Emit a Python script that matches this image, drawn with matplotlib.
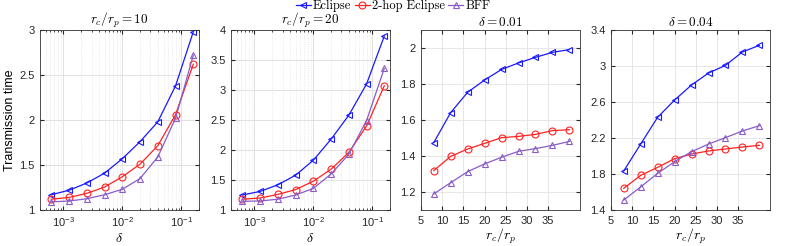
import numpy as np
import matplotlib.pyplot as plt

plt.rcParams['font.family'] = ['Liberation Sans', 'DejaVu Sans']
plt.rcParams['mathtext.fontset'] = 'cm'

# panel 1 / 2 : transmission time vs delta
delta = [0.000625, 0.00125, 0.0025, 0.005, 0.01, 0.02, 0.04, 0.08, 0.16]

ecl_r10 = [1.17, 1.22, 1.30, 1.41, 1.57, 1.76, 1.98, 2.38, 2.98]
hop_r10 = [1.12, 1.14, 1.185, 1.255, 1.37, 1.51, 1.715, 2.06, 2.62]
bff_r10 = [1.09, 1.10, 1.125, 1.17, 1.23, 1.35, 1.59, 2.02, 2.72]

ecl_r20 = [1.25, 1.31, 1.42, 1.58, 1.83, 2.18, 2.58, 3.10, 3.90]
hop_r20 = [1.18, 1.20, 1.26, 1.34, 1.48, 1.68, 1.96, 2.40, 3.07]
bff_r20 = [1.145, 1.15, 1.18, 1.25, 1.36, 1.60, 1.93, 2.49, 3.36]

# panel 3 / 4 : transmission time vs rc/rp
ratio = [8, 12, 16, 20, 24, 28, 32, 36, 40]

ecl_d01 = [1.474, 1.641, 1.754, 1.822, 1.881, 1.917, 1.948, 1.976, 1.991]
hop_d01 = [1.319, 1.398, 1.439, 1.470, 1.502, 1.509, 1.520, 1.541, 1.546]
bff_d01 = [1.189, 1.252, 1.313, 1.356, 1.393, 1.426, 1.441, 1.459, 1.481]

ecl_d04 = [1.833, 2.133, 2.43, 2.622, 2.789, 2.922, 3.007, 3.156, 3.23]
hop_d04 = [1.641, 1.785, 1.874, 1.97, 2.022, 2.056, 2.078, 2.10, 2.119]
bff_d04 = [1.511, 1.656, 1.807, 1.937, 2.048, 2.133, 2.204, 2.278, 2.337]

c_ecl = '#1a1aff'
c_hop = '#ff2222'
c_bff = '#8a5cc8'

fig = plt.figure(figsize=(7.89, 2.46), dpi=100)
W, H = 789, 246
lefts = [40, 231, 421, 611]
axes = []
for l in lefts:
    axes.append(fig.add_axes([l / W, (H - 210) / H, 159 / W, 180 / H]))

panels = [
    (delta, ecl_r10, hop_r10, bff_r10, r'$r_c/r_p = 10$'),
    (delta, ecl_r20, hop_r20, bff_r20, r'$r_c/r_p = 20$'),
    (ratio, ecl_d01, hop_d01, bff_d01, r'$\delta = 0.01$'),
    (ratio, ecl_d04, hop_d04, bff_d04, r'$\delta = 0.04$'),
]

mk = dict(markersize=5, markerfacecolor='none', linewidth=0.9, markeredgewidth=0.8)
handles = None
for i, (ax, (x, e, h, b, title)) in enumerate(zip(axes, panels)):
    l1, = ax.plot(x, e, '<-', color=c_ecl, label='Eclipse', **mk)
    l2, = ax.plot(x, h, 'o-', color=c_hop, label='2-hop Eclipse', **mk)
    l3, = ax.plot(x, b, '^-', color=c_bff, label='BFF', **mk)
    handles = [l1, l2, l3]
    ax.set_title(title, fontsize=9.5, pad=3)
    ax.tick_params(direction='in', which='both', top=True, right=True,
                   labelsize=8, length=3, colors='#262626', pad=4)
    ax.tick_params(which='minor', length=1.5)
    for s in ax.spines.values():
        s.set_color('#333333')
        s.set_linewidth(0.6)
    if i < 2:
        ax.set_xscale('log')
        ax.set_xlim(4e-4, 0.2)
        ax.set_xlabel(r'$\delta$', fontsize=10, labelpad=1)
        ax.grid(True, which='major', color='#dcdcdc', linewidth=0.6)
        ax.grid(True, which='minor', color='#dcdcdc', linewidth=0.5, linestyle=':')
    else:
        ax.set_xlim(5, 42.5)
        ax.set_xticks([5, 10, 15, 20, 25, 30, 35])
        ax.set_xlabel(r'$r_c/r_p$', fontsize=10, labelpad=1)
        ax.grid(True, which='major', color='#e3e3e3', linewidth=0.6)
    ax.set_axisbelow(True)

axes[0].set_ylim(1, 3)
axes[0].set_yticks([1, 1.5, 2, 2.5, 3])
axes[0].set_yticklabels(['1', '1.5', '2', '2.5', '3'])
axes[0].set_ylabel('Transmission time', fontsize=9, labelpad=2)
axes[1].set_ylim(1, 4)
axes[1].set_yticks([1, 1.5, 2, 2.5, 3, 3.5, 4])
axes[1].set_yticklabels(['1', '1.5', '2', '2.5', '3', '3.5', '4'])
axes[2].set_ylim(1.1, 2.1)
axes[2].set_yticks([1.2, 1.4, 1.6, 1.8, 2.0])
axes[2].set_yticklabels(['1.2', '1.4', '1.6', '1.8', '2'])
axes[3].set_ylim(1.4, 3.4)
axes[3].set_yticks([1.4, 1.8, 2.2, 2.6, 3.0, 3.4])
axes[3].set_yticklabels(['1.4', '1.8', '2.2', '2.6', '3', '3.4'])

fig.legend(handles=handles, loc='center', bbox_to_anchor=(393 / W, 1 - 6 / H),
           ncol=3, frameon=False, prop={'family': 'cmr10', 'size': 9},
           handlelength=1.2, handletextpad=0.15, columnspacing=0.3, borderpad=0)

fig.savefig('out.png', dpi=100)
